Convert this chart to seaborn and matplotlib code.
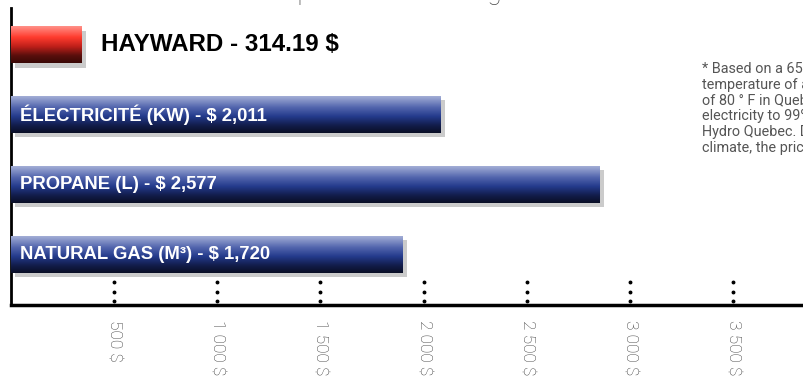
import numpy as np
import pandas as pd
import seaborn as sns
import matplotlib.pyplot as plt
import matplotlib.patheffects as pe
from matplotlib.colors import LinearSegmentedColormap
from matplotlib.transforms import offset_copy

# values (bar lengths on the $ axis)
categories = ["HAYWARD", "ELECTRICITE", "PROPANE", "NATURAL GAS"]
bar_lengths = [344, 2084, 2855, 1898]
bar_labels = ["HAYWARD - 314.19 $", "ÉLECTRICITÉ (KW) - $ 2,011",
              "PROPANE (L) - $ 2,577", "NATURAL GAS (M³) - $ 1,720"]
tick_values = [500, 1000, 1500, 2000, 2500, 3000, 3500]
tick_labels = ["500 $", "1 000 $", "1 500 $", "2 000 $", "2 500 $", "3 000 $", "3 500 $"]
footnote = ["* Based on a 65 m³ pool at a water",
            "temperature of about 27 °C, that is",
            "of 80 ° F in Quebec, with the price of",
            "electricity to 99% from the rates of",
            "Hydro Quebec. Depending on the",
            "climate, the price may vary."]
title = "Comparison of heating costs"

red = '#d8241c'
blue = '#243b8c'

df = pd.DataFrame({"cat": categories, "val": bar_lengths})

sns.set_style("white")
plt.rcParams['font.family'] = ['Liberation Sans', 'DejaVu Sans']

fig = plt.figure(figsize=(8.04, 3.9), dpi=100)
ax = fig.add_axes([11 / 804, 85 / 390, 793 / 804, 297 / 390])

sns.barplot(data=df, x="val", y="cat", hue="cat", orient="h",
            palette=[red, blue, blue, blue], width=0.53, legend=False,
            linewidth=0, ax=ax)

blue_cmap = LinearSegmentedColormap.from_list(
    "b", [(0, "#a3aed6"), (0.3, "#5366ae"), (0.55, "#243b8c"), (0.8, "#121c4a"), (1, "#0a0f26")])
red_cmap = LinearSegmentedColormap.from_list(
    "r", [(0, "#ff9088"), (0.3, "#ff3b2e"), (0.55, "#c0201a"), (0.8, "#5a0f0c"), (1, "#3a0806")])
grad = np.linspace(0, 1, 100).reshape(-1, 1)

for i, p in enumerate(ax.patches):
    p.set_edgecolor('none')
    p.set_path_effects([pe.SimplePatchShadow(offset=(3, -3), shadow_rgbFace='#999999', alpha=0.5), pe.Normal()])
    x0, y0, w, h = p.get_x(), p.get_y(), p.get_width(), p.get_height()
    im = ax.imshow(grad, cmap=red_cmap if i == 0 else blue_cmap, aspect='auto',
                   origin='lower', extent=(x0, x0 + w, y0, y0 + h), zorder=3)
    im.set_clip_path(p)

ax.set_xlim(0, 3844)
ax.set_ylim(3.73, -0.53)

# labels
for i, lab in enumerate(bar_labels):
    if i == 0:
        tr = offset_copy(ax.transData, fig=fig, x=19, y=0, units='dots')
        ax.text(bar_lengths[i], i, lab, transform=tr, va='center', ha='left',
                fontsize=17.4, fontweight='bold', color='black', zorder=5)
    else:
        tr = offset_copy(ax.transData, fig=fig, x=9, y=0, units='dots')
        ax.text(0, i, lab, transform=tr, va='center', ha='left',
                fontsize=13.3, fontweight='bold', color='white', zorder=5)

# dotted tick marks
for yy in [0.012, 0.044, 0.076]:
    ax.plot(tick_values, [yy] * len(tick_values), 'o', color='black', markersize=1.8,
            transform=ax.get_xaxis_transform(), clip_on=False, zorder=4)

ax.set_xticks(tick_values)
ax.set_xticklabels(tick_labels, rotation=-90, fontsize=12.5, color='#3a3a3a',
                   family=['Roboto', 'DejaVu Sans'], fontweight='light')
ax.tick_params(axis='x', length=0, pad=11)
ax.set_yticks([])
ax.set_xlabel("")
ax.set_ylabel("")
sns.despine(ax=ax)
ax.spines['left'].set_linewidth(2)
ax.spines['left'].set_color('black')
ax.spines['bottom'].set_linewidth(2.5)
ax.spines['bottom'].set_color('black')

fig.text(702 / 804, (390 - 62) / 390, "\n".join(footnote), va='top', ha='left',
         fontsize=10.4, color='#555555', linespacing=1.16,
         family=['Roboto', 'DejaVu Sans'])

fig.text(242 / 804, 1.0, title, va='baseline', ha='left', fontsize=19,
         color='#444444', family=['Roboto', 'DejaVu Sans'], fontweight='light')

fig.savefig("out.png", dpi=100)
